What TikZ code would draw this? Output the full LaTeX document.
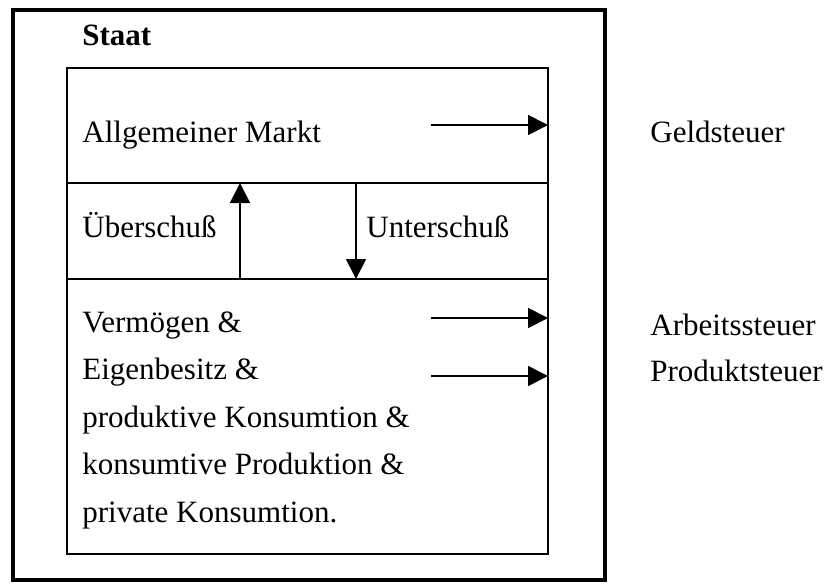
\documentclass[tikz,border=0pt]{standalone}
\usepackage{fontspec}
\setmainfont{Liberation Serif}
\usepackage{tikz}
\usetikzlibrary{arrows.meta,positioning}
\tikzstyle{flowarrow} = [line width=0.9pt,-{Triangle[length=10pt,width=10pt]}]
\tikzstyle{boxline} = [line width=1.1pt]
\tikzstyle{label} = [inner sep=0pt, anchor=base west, font=\fontsize{15.5}{23.75}\selectfont]

\begin{document}
\begin{tikzpicture}[x=0.5pt,y=-0.5pt]
\useasboundingbox (0,0) rectangle (829,585);
% Staat (outer frame)
\draw[line width=2.2pt] (13,10) rectangle (605,580);
\node[label, font=\fontsize{15.5}{18}\selectfont\bfseries] (staat) at (82,45) {Staat};

% inner box with its three parts
\draw[boxline] (67,68) rectangle (548,554);
\draw[boxline] (67,183) -- (548,183);
\draw[boxline] (67,279) -- (548,279);

\coordinate (gStart) at (431,125);
\coordinate (gEnd) at (548,125);
\coordinate (aStart) at (431,318);
\coordinate (aEnd) at (548,318);
\coordinate (pStart) at (431,376);
\coordinate (pEnd) at (548,376);
\coordinate (upLow) at (240,279);
\coordinate (upHigh) at (240,183);
\coordinate (downHigh) at (356,183);
\coordinate (downLow) at (356,279);

% texts
\node[label] (markt) at (82,142) {Allgemeiner Markt};
\node[label] (ueber) at (82,237) {Überschuß};
\node[label] (unter) at (366,237) {Unterschuß};
\node[label, align=left, anchor=north west] (verm) at (82,311)
  {Vermögen \&\\Eigenbesitz \&\\produktive Konsumtion \&\\konsumtive Produktion \&\\private Konsumtion.};
\node[label] (geld) at (650,142) {Geldsteuer};
\node[label] (arbeit) at (650,335) {Arbeitssteuer};
\node[label] (produkt) at (650,381) {Produktsteuer};

% arrows
\draw[flowarrow] (gStart) -- (gEnd);
\draw[flowarrow] (aStart) -- (aEnd);
\draw[flowarrow] (pStart) -- (pEnd);
\draw[flowarrow] (upLow) -- (upHigh);
\draw[flowarrow] (downHigh) -- (downLow);
\end{tikzpicture}
\end{document}
